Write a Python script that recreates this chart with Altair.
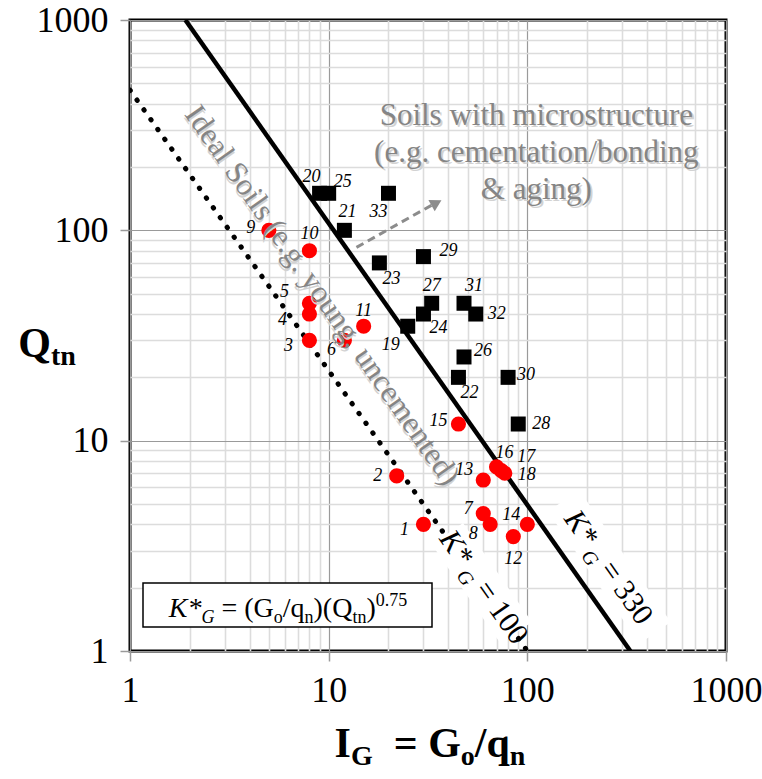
import altair as alt
import pandas as pd

# ---------------- data ----------------
UNB_ID = list(range(1, 19))
UNB_IG = [30, 22, 8, 8, 8, 12, 60, 65, 5, 8, 15, 85, 60, 100, 45, 70, 74, 77]
UNB_QTN = [4, 6.8, 30, 40, 45, 30, 4.5, 4, 100, 80, 35, 3.5, 6.5, 4, 12, 7.5, 7.2, 7]

BON_ID = list(range(19, 34))
BON_IG = [25, 9, 12, 45, 18, 30, 10, 48, 33, 90, 30, 80, 48, 55, 20]
BON_QTN = [35, 150, 100, 20, 70, 40, 150, 25, 45, 12, 75, 20, 45, 40, 150]

K330_IG = [1.9, 330]
K330_QTN = [1000, 1]
K100_IG = [1, 100]
K100_QTN = [464, 1]

ARROW_IG = [13.8, 32.9]
ARROW_QTN = [83, 131.5]
ARROW_HEAD_IG = [34.9]
ARROW_HEAD_QTN = [135]

TICK_VALUES = [1, 2, 3, 4, 5, 6, 7, 8, 9,
               10, 20, 30, 40, 50, 60, 70, 80, 90,
               100, 200, 300, 400, 500, 600, 700, 800, 900, 1000]
MAJOR = [1, 10, 100, 1000]

# ---------------- layout / style (not data) ----------------
SERIF = "Liberation Serif"
W, H = 596, 631

LABEL_OFFSET = {
    1: (-19, 6), 2: (-19, 0), 3: (-21, 6), 4: (-27, 6), 5: (-25, -11),
    6: (-13, 10), 7: (-15, -5), 8: (-17, 10), 9: (-18, -2), 10: (0, -17),
    11: (0, -15), 12: (0, 22), 13: (-19, -10), 14: (-16, -9), 15: (-20, -3),
    16: (8, -14), 17: (25, -14), 18: (22, 2), 19: (-17, 19), 20: (-8, -16),
    21: (3, -18), 22: (11, 16), 23: (12, 16), 24: (15, 14), 25: (14, -11),
    26: (19, -6), 27: (0, -17), 28: (23, 0), 29: (25, -6), 30: (18, -2),
    31: (10, -17), 32: (21, 0), 33: (-10, 19),
}

# annotation anchors (data space)
IDEAL_AT = (9.23, 49.0)
MICRO_AT = (111, 349)          # centre of the first text line
K330_LABEL_AT = (258, 2.51)
K100_LABEL_AT = (60.8, 2.02)
K330_BAND = ([152, 440], [5.18, 1.22])
K100_BAND = ([39.6, 88], [3.61, 1.22])
ANGLE = 55

is_major = "indexof([1,10,100,1000], datum.value) >= 0"

XS = alt.Scale(type="log", domain=[1, 1000], nice=False)
YS = alt.Scale(type="log", domain=[1, 1000], nice=False)


def make_axis(pad):
    return alt.Axis(
        values=TICK_VALUES,
        title=None,
        labelExpr=f"{is_major} ? format(datum.value, 'd') : ''",
        labelFont=SERIF,
        labelFontSize=36,
        labelColor="black",
        labelPadding=pad,
        labelFlush=False,
        labelOverlap=False,
        domain=False,
        grid=True,
        gridColor={"condition": {"test": is_major, "value": "#9a9a9a"}, "value": "#dcdcdc"},
        gridWidth={"condition": {"test": is_major, "value": 1.2}, "value": 1.6},
        tickColor={"condition": {"test": is_major, "value": "#9a9a9a"}, "value": "transparent"},
        tickSize=10,
        tickWidth=1.5,
    )


XAX = make_axis(12)
YAX = make_axis(12)


def X():
    return alt.X("x:Q", scale=XS, axis=XAX)


def Y():
    return alt.Y("y:Q", scale=YS, axis=YAX)


# Times / Liberation Serif advance widths (per 1000 em)
W_REG = {' ': 250, '(': 333, ')': 333, '*': 500, '/': 278, '=': 564, '.': 250,
         'G': 722, 'K': 722, 'Q': 722, 'o': 500, 'q': 500, 'n': 500, 't': 278}
for d in "0123456789":
    W_REG[d] = 500
W_IT = {'K': 667, '*': 500, 'G': 722, ' ': 250}
W_BD = {'Q': 778, 't': 333, 'n': 556, 'I': 389, 'G': 778, '=': 570, 'o': 500,
        '/': 278, 'q': 556, ' ': 250}


def tw(text, size, style):
    table = W_BD if style == "bold" else (W_IT if style == "italic" else W_REG)
    return sum(table.get(c, 500) for c in text) / 1000.0 * size


one = pd.DataFrame({"k": [0]})


def rich(segments, x_enc, y_enc, data, angle=0, color="black"):
    """Lay out text pieces of different sizes/styles side by side (leading spaces
    are turned into explicit offsets because the renderer drops them)."""
    widths = [tw(t, s, st) for (t, s, st, sh) in segments]
    off = -sum(widths) / 2.0
    out = []
    for (t, s, st, sh), w in zip(segments, widths):
        body = t.lstrip(" ")
        lead = tw(t[: len(t) - len(body)], s, st)
        kw = dict(text=body, font=SERIF, fontSize=s, align="left", baseline="alphabetic",
                  dx=off + lead, dy=sh, color=color)
        if st == "italic":
            kw["fontStyle"] = "italic"
        if st == "bold":
            kw["fontWeight"] = "bold"
        if angle:
            kw["angle"] = angle
        out.append(alt.Chart(data).mark_text(**kw).encode(x=x_enc, y=y_enc))
        off += w
    return out


layers = []

# K*G lines
k100 = pd.DataFrame({"x": K100_IG, "y": K100_QTN})
k330 = pd.DataFrame({"x": K330_IG, "y": K330_QTN})
layers.append(alt.Chart(k100).mark_line(color="black", strokeWidth=5, strokeDash=[0.5, 11.5],
                                        strokeCap="round", clip=True).encode(x=X(), y=Y()))
layers.append(alt.Chart(k330).mark_line(color="black", strokeWidth=4.5, clip=True).encode(x=X(), y=Y()))

# white label boxes along the lines
for bx, by in (K330_BAND, K100_BAND):
    band = pd.DataFrame({"x": bx, "y": by})
    layers.append(alt.Chart(band).mark_line(color="white", strokeWidth=38, strokeCap="butt")
                  .encode(x=X(), y=Y()))

# K*G labels
for (lx, ly), val in ((K330_LABEL_AT, " = 330"), (K100_LABEL_AT, " = 100")):
    d = pd.DataFrame({"x": [lx], "y": [ly]})
    layers += rich([("K*", 30, "italic", 10), (" G", 20, "italic", 17), (val, 30, "normal", 10)],
                   X(), Y(), d, angle=ANGLE)

# points
unb = pd.DataFrame({"id": UNB_ID, "x": UNB_IG, "y": UNB_QTN})
bon = pd.DataFrame({"id": BON_ID, "x": BON_IG, "y": BON_QTN})
layers.append(alt.Chart(bon).mark_square(size=225, color="black", opacity=1).encode(x=X(), y=Y()))
layers.append(alt.Chart(unb).mark_circle(size=230, color="#ff0000", opacity=1).encode(x=X(), y=Y()))

# point labels
allpts = pd.concat([unb, bon], ignore_index=True)
for i, (dx, dy) in LABEL_OFFSET.items():
    layers.append(
        alt.Chart(allpts).transform_filter(f"datum.id == {i}")
        .mark_text(dx=dx, dy=dy, font=SERIF, fontSize=18, fontStyle="italic", color="black",
                   align="center", baseline="middle")
        .encode(x=X(), y=Y(), text="id:N")
    )

# arrow
arr = pd.DataFrame({"x": ARROW_IG, "y": ARROW_QTN})
layers.append(alt.Chart(arr).mark_line(color="#8c8c8c", strokeWidth=3, strokeDash=[8, 5])
              .encode(x=X(), y=Y()))
head = pd.DataFrame({"x": ARROW_HEAD_IG, "y": ARROW_HEAD_QTN})
layers.append(alt.Chart(head).mark_point(shape="triangle-up", angle=61, filled=True, size=170,
                                         color="#8c8c8c", opacity=1).encode(x=X(), y=Y()))

# annotation texts with soft shadow
ideal = pd.DataFrame({"x": [IDEAL_AT[0]], "y": [IDEAL_AT[1]]})
micro = pd.DataFrame({"x": [MICRO_AT[0]], "y": [MICRO_AT[1]]})
ideal_txt = "Ideal Soils (e.g. young, uncemented)"
micro_txt = ["Soils with microstructure", "(e.g. cementation/bonding", "& aging)"]
for col, sh in (("#d2d2d2", 2), ("#858585", 0)):
    layers.append(alt.Chart(ideal).mark_text(text=ideal_txt, font=SERIF, fontSize=31, angle=ANGLE,
                                             align="center", baseline="middle", color=col,
                                             dx=sh, dy=sh).encode(x=X(), y=Y()))
    layers.append(alt.Chart(micro).mark_text(text=micro_txt, font=SERIF, fontSize=31, lineHeight=37,
                                             align="center", baseline="middle", color=col,
                                             dx=sh, dy=sh).encode(x=X(), y=Y()))

# formula box
layers.append(alt.Chart(one).mark_rect(fill="white", stroke="black", strokeWidth=1.5)
              .encode(x=alt.value(13), x2=alt.value(302), y=alt.value(563), y2=alt.value(607)))
layers += rich([("K*", 28, "italic", 0), ("G", 18, "italic", 6),
                (" = (G", 28, "normal", 0),
                ("o", 18, "normal", 6), ("/q", 28, "normal", 0), ("n", 18, "normal", 6),
                (")(Q", 28, "normal", 0), ("tn", 18, "normal", 6), (")", 28, "normal", 0),
                ("0.75", 18, "normal", -11)],
               alt.value(158), alt.value(597), one)

# axis titles
layers += rich([("Q", 42, "bold", 0), ("tn", 28, "bold", 8)], alt.value(-83), alt.value(337), one)
layers += rich([("I", 42, "bold", 0), ("G", 28, "bold", 8), ("  = G", 42, "bold", 0),
                ("o", 28, "bold", 8), ("/q", 42, "bold", 0), ("n", 28, "bold", 8)],
               alt.value(300), alt.value(737), one)

chart = alt.layer(*layers).properties(
    width=W, height=H, autosize="none",
    padding={"left": 130, "top": 20, "right": 36, "bottom": 128},
    background="white",
).configure_view(stroke="black", strokeWidth=3)

chart.save("out.html", embed_options={"renderer": "svg", "actions": False})
